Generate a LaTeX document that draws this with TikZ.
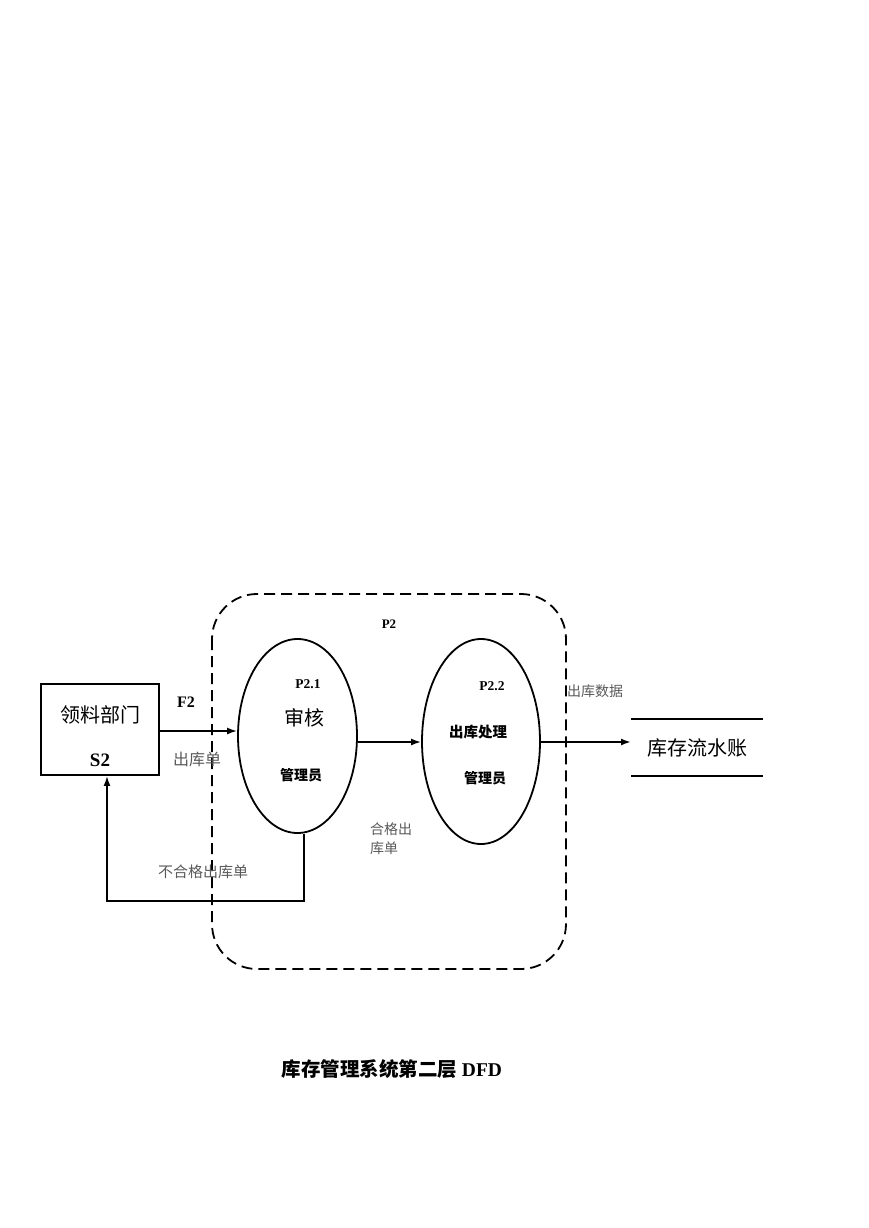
\documentclass[tikz,border=0pt]{standalone}
\usepackage{fontspec}
\setmainfont{Liberation Serif}
\newfontfamily\cjk{Noto Sans CJK SC}
\usetikzlibrary{arrows.meta,shapes.geometric}

\begin{document}
\begin{tikzpicture}[x=1pt, y=-1pt, >={Latex[length=10pt,width=7pt]}, line width=1.8pt]
    \useasboundingbox (0,0) rectangle (869,1228);
    \tikzset{proc/.style={ellipse, draw, inner sep=0pt},
             lbl/.style={font=\cjk\fontsize{14}{14}\selectfont, text=black!65},
             flow/.style={->}}
    % process boundary
    \draw[dash pattern=on 11pt off 6pt, rounded corners=45pt] (212,594) rectangle (566,969);
    \node (p2) at (389,624) {\bfseries\fontsize{13}{13}\selectfont P2};
    % source
    \node[draw, minimum width=118pt, minimum height=91pt, inner sep=0pt] (s2) at (100,729.5) {};
    \node (s2name) at (100,715) {\cjk\fontsize{20}{20}\selectfont 领料部门};
    \node (s2id) at (100,760) {\bfseries\fontsize{19}{19}\selectfont S2};
    % processes
    \node[proc, minimum width=119pt, minimum height=194pt] (p21) at (297.5,736) {};
    \node (p21id) at (308,684) {\bfseries\fontsize{13.5}{13.5}\selectfont P2.1};
    \node (p21name) at (304,718) {\cjk\fontsize{20}{20}\selectfont 审核};
    \node (p21who) at (301,775) {\cjk\bfseries\fontsize{14}{14}\selectfont 管理员};
    \node[proc, minimum width=118pt, minimum height=205pt] (p22) at (481,741.5) {};
    \node (p22id) at (492,686) {\bfseries\fontsize{13.5}{13.5}\selectfont P2.2};
    \node (p22name) at (478,732) {\cjk\bfseries\fontsize{14.5}{14.5}\selectfont 出库处理};
    \node (p22who) at (485,778) {\cjk\bfseries\fontsize{14}{14}\selectfont 管理员};
    % data store
    \coordinate (st1) at (631,719);\coordinate (st2) at (763,719);
    \coordinate (st3) at (631,776);\coordinate (st4) at (763,776);
    \draw[line width=2.2pt] (st1) -- (st2);
    \draw[line width=2.2pt] (st3) -- (st4);
    \node (store) at (697,748) {\cjk\fontsize{20}{20}\selectfont 库存流水账};
    % flows
    \draw[flow] (s2.east |- 0,731) -- (p21.west |- 0,731);
    \node (f2) at (186,702) {\bfseries\fontsize{16}{16}\selectfont F2};
    \node[lbl, font=\cjk\fontsize{16}{16}\selectfont] (f2name) at (197,759) {出库单};
    \draw[flow] (p21.east |- 0,742) -- (p22.west |- 0,742);
    \node[lbl, align=left, anchor=west] (okname) at (366,839) {合格出\\[5pt]库单};
    \draw[flow] (p22.east |- 0,742) -- (st1 |- 0,742);
    \node[lbl] (outname) at (595,691) {出库数据};
    \coordinate (turn) at (107,901);
    \draw[flow] ([xshift=6.5pt]p21.south) |- (turn) -- ([xshift=7pt]s2.south);
    \node[lbl, font=\cjk\fontsize{15}{15}\selectfont] (badname) at (203,872) {不合格出库单};
    % caption
    \node (title) at (392,1069) {\cjk\bfseries\fontsize{19.5}{19.5}\selectfont 库存管理系统第二层 \rmfamily DFD};
\end{tikzpicture}
\end{document}
